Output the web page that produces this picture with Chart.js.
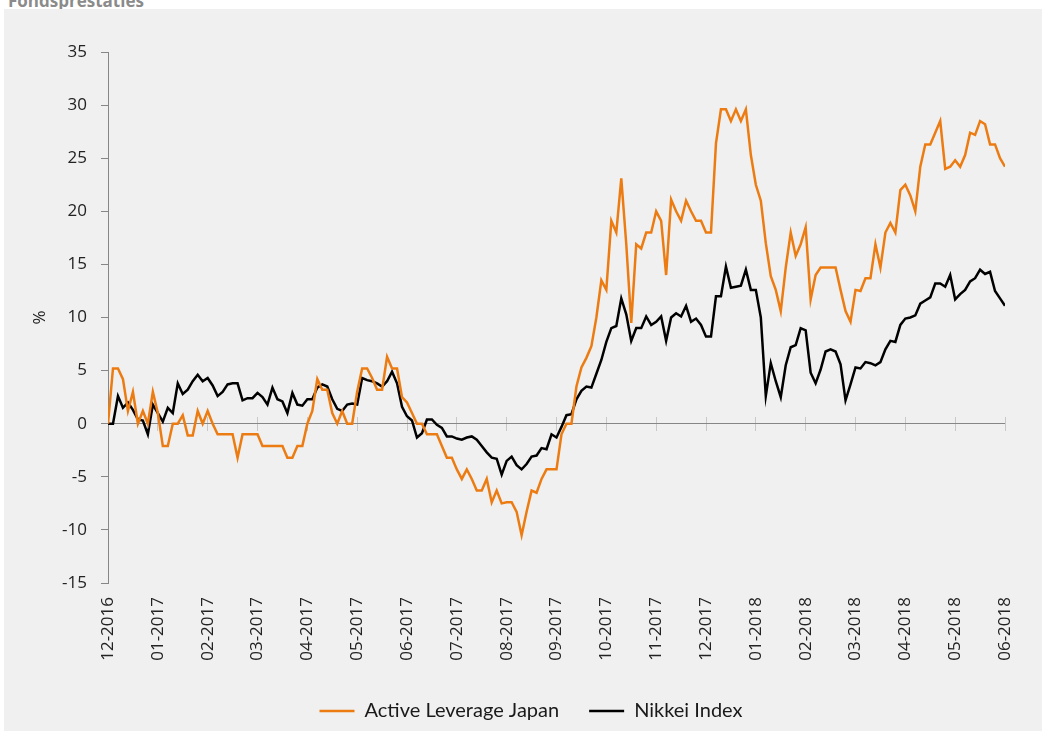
<!DOCTYPE html>
<html>
<head>
<meta charset="utf-8">
<script src="https://cdn.jsdelivr.net/npm/chart.js@4/dist/chart.umd.min.js"></script>
<style>
  body { margin: 0; background: #fff; overflow: hidden; }
  #title { position: absolute; left: 8px; top: -11px; font: bold 17px "Open Sans", sans-serif; color: #8b8b8b; white-space: nowrap; }
  #panel { position: absolute; left: 4px; top: 9px; width: 1038px; height: 722px; background: #f0f0f0; }
</style>
</head>
<body>
<div id="title">Fondsprestaties</div>
<div id="panel"><canvas id="perfChart"></canvas></div>
<script>
// month labels, one every 10 points
const months = ["12-2016", "01-2017", "02-2017", "03-2017", "04-2017", "05-2017", "06-2017",
  "07-2017", "08-2017", "09-2017", "10-2017", "11-2017", "12-2017", "01-2018", "02-2018",
  "03-2018", "04-2018", "05-2018", "06-2018"];

// cumulative return in %
const activeLeverageJapan = [
  0, 5.2, 5.2, 4.2, 1.2, 3.0, 0, 1.2, 0, 3.0,
  1.0, -2.1, -2.1, 0, 0, 0.8, -1.1, -1.1, 1.2, 0,
  1.2, 0, -1.0, -1.0, -1.0, -1.0, -3.2, -1.0, -1.0, -1.0,
  -1.0, -2.1, -2.1, -2.1, -2.1, -2.1, -3.2, -3.2, -2.1, -2.1,
  0, 1.2, 4.2, 3.2, 3.2, 1.0, 0, 1.2, 0, 0,
  3.0, 5.2, 5.2, 4.3, 3.2, 3.2, 6.3, 5.2, 5.2, 2.5,
  2.0, 1.0, 0, 0, -1.0, -1.0, -1.0, -2.1, -3.2, -3.2,
  -4.3, -5.2, -4.3, -5.2, -6.3, -6.3, -5.2, -7.4, -6.3, -7.5,
  -7.4, -7.4, -8.3, -10.5, -8.3, -6.3, -6.5, -5.2, -4.3, -4.3,
  -4.3, -1.0, 0, 0, 3.5, 5.3, 6.2, 7.3, 10.0, 13.5,
  12.6, 19.1, 18.0, 23.1, 16.9, 9.5, 16.9, 16.5, 18.0, 18.0,
  20.0, 19.1, 14.0, 21.1, 20.0, 19.1, 21.0, 20.0, 19.1, 19.1,
  18.0, 18.0, 26.4, 29.6, 29.6, 28.5, 29.6, 28.5, 29.6, 25.3,
  22.5, 21.0, 17.0, 13.9, 12.6, 10.6, 14.7, 18.0, 15.8, 16.9,
  18.5, 11.7, 14.0, 14.7, 14.7, 14.7, 14.7, 12.6, 10.6, 9.6,
  12.6, 12.5, 13.7, 13.7, 16.9, 14.7, 18.0, 18.9, 18.0, 22.0,
  22.5, 21.5, 20.0, 24.2, 26.3, 26.3, 27.4, 28.5, 24.0, 24.2,
  24.8, 24.2, 25.3, 27.4, 27.2, 28.5, 28.2, 26.3, 26.3, 25.0, 24.2
];

const nikkeiIndex = [
  0, 0, 2.6, 1.5, 2.0, 1.3, 0.4, 0.3, -1.0, 1.8,
  1.0, 0.2, 1.5, 1.0, 3.8, 2.8, 3.2, 4.0, 4.6, 4.0,
  4.3, 3.6, 2.6, 3.0, 3.7, 3.8, 3.8, 2.2, 2.4, 2.4,
  2.9, 2.5, 1.8, 3.4, 2.3, 2.1, 1.0, 2.9, 1.8, 1.7,
  2.3, 2.3, 3.4, 3.7, 3.5, 2.3, 1.4, 1.2, 1.8, 1.9,
  1.8, 4.3, 4.1, 4.0, 3.8, 3.5, 4.0, 4.9, 3.8, 1.6,
  0.7, 0.3, -1.3, -0.9, 0.4, 0.4, -0.1, -0.4, -1.2, -1.2,
  -1.4, -1.5, -1.3, -1.2, -1.5, -2.1, -2.7, -3.2, -3.3, -4.8,
  -3.5, -3.1, -3.9, -4.3, -3.8, -3.1, -3.0, -2.3, -2.4, -1.0,
  -1.3, -0.3, 0.8, 0.9, 2.3, 3.1, 3.5, 3.4, 4.7, 6.0,
  7.7, 9.0, 9.2, 11.8, 10.3, 7.8, 9.0, 9.0, 10.1, 9.3,
  9.6, 10.1, 7.8, 10.0, 10.4, 10.1, 11.1, 9.6, 9.9, 9.3,
  8.2, 8.2, 12.0, 12.0, 14.8, 12.8, 12.9, 13.0, 14.5, 12.6,
  12.6, 10.0, 2.6, 5.7, 4.0, 2.5, 5.5, 7.2, 7.4, 9.0,
  8.8, 4.8, 3.8, 5.1, 6.8, 7.0, 6.8, 5.6, 2.2, 3.7,
  5.3, 5.2, 5.8, 5.7, 5.5, 5.8, 7.0, 7.8, 7.7, 9.3,
  9.9, 10.0, 10.2, 11.3, 11.6, 11.9, 13.2, 13.2, 12.9, 14.0,
  11.7, 12.2, 12.6, 13.4, 13.7, 14.5, 14.1, 14.3, 12.5, 11.8, 11.1
];

const pointsPerMonth = 10;
const lastIndex = (months.length - 1) * pointsPerMonth;
const toPoints = values => values.map((v, i) => ({ x: i, y: v }));

const font = { family: "'Open Sans', sans-serif", size: 17 };
const legendFont = { family: "Lato, sans-serif", size: 20 };
const axisGrey = "#868686";

new Chart(document.getElementById("perfChart"), {
  type: "line",
  data: {
    datasets: [
      {
        label: "Active Leverage Japan",
        borderColor: "#ec7c12",
        backgroundColor: "#ec7c12",
        borderWidth: 2.5,
        data: toPoints(activeLeverageJapan)
      },
      {
        label: "Nikkei Index",
        borderColor: "#000000",
        backgroundColor: "#000000",
        borderWidth: 2.5,
        data: toPoints(nikkeiIndex)
      }
    ]
  },
  options: {
    responsive: true,
    maintainAspectRatio: false,
    animation: false,
    elements: { point: { radius: 0 }, line: { tension: 0 } },
    layout: { padding: { top: 43, right: 0, bottom: 0, left: 16 } },
    plugins: {
      tooltip: { enabled: false },
      legend: {
        position: "bottom",
        labels: {
          font: legendFont,
          color: "#1a1a1a",
          usePointStyle: true,
          pointStyle: "line",
          pointStyleWidth: 35,
          padding: 30
        }
      }
    },
    scales: {
      x: {
        type: "linear",
        min: 0,
        max: lastIndex,
        border: { display: false },
        grid: { display: false, drawTicks: false },
        ticks: {
          stepSize: pointsPerMonth,
          autoSkip: false,
          maxRotation: 90,
          minRotation: 90,
          padding: 14,
          font: font,
          color: "#222",
          callback: value => months[Math.round(value / pointsPerMonth)]
        },
        afterFit: scale => { scale.height = 88; }
      },
      xTicks: {
        type: "linear",
        position: { y: 0.65 },
        min: 0,
        max: lastIndex,
        border: { display: false },
        grid: { drawOnChartArea: false, drawTicks: true, tickLength: 14, color: "#c8c8c8" },
        ticks: { display: false, stepSize: pointsPerMonth, autoSkip: false }
      },
      y: {
        min: -15,
        max: 35,
        border: { color: axisGrey },
        grid: {
          color: ctx => (ctx.tick && ctx.tick.value === 0 ? axisGrey : "rgba(0,0,0,0)"),
          tickColor: axisGrey,
          tickLength: 7
        },
        ticks: { stepSize: 5, padding: 14, font: font, color: "#222" },
        title: { display: true, text: "%", font: font, color: "#222", padding: { top: 10, bottom: 0 } },
        afterFit: scale => { scale.width = 88; }
      },
      yRight: {
        position: "right",
        min: -15,
        max: 35,
        border: { display: false },
        grid: { display: false, drawTicks: false },
        ticks: { display: false },
        afterFit: scale => { scale.width = 37; }
      }
    }
  }
});
</script>
</body>
</html>
